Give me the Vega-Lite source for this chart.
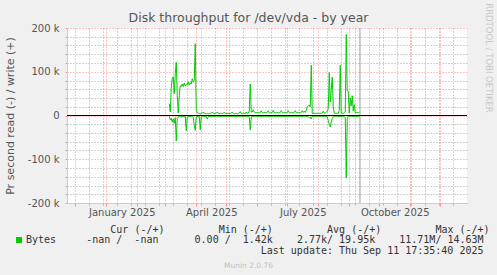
{
  "$schema": "https://vega.github.io/schema/vega-lite/v6.json",
  "width": 400,
  "height": 175,
  "autosize": {"type": "none"},
  "padding": {"left": 67, "top": 28, "right": 30, "bottom": 72},
  "background": "#f0f0f0",
  "config": {"view": {"stroke": null, "fill": "white"}, "font": "DejaVu Sans"},
  "title": {"text": "Disk throughput for /dev/vda - by year", "font": "DejaVu Sans", "fontSize": 12.5, "fontWeight": "normal", "color": "#555", "anchor": "middle", "frame": "group", "dx": -18.5, "dy": 22, "offset": 0},
  "resolve": {"axis": {"x": "independent", "y": "independent"}},
  "layer": [
    {
      "data": {"values": [{}]},
      "mark": {"type": "rule", "color": "#999999", "strokeWidth": 1},
      "encoding": {
        "x": {"datum": {"year": 2025, "month": 9, "date": 11, "hours": 17, "minutes": 35, "seconds": 40}, "type": "temporal",
          "scale": {"domain": [{"year": 2024, "month": 11, "date": 22, "hours": 18}, {"year": 2025, "month": 12, "date": 27, "hours": 18}]},
          "axis": {"orient": "bottom", "values": [
            {"year": 2024, "month": 12, "date": 15}, {"year": 2024, "month": 12, "date": 29}, {"year": 2025, "month": 1, "date": 12}, {"year": 2025, "month": 1, "date": 26},
            {"year": 2025, "month": 2, "date": 9}, {"year": 2025, "month": 2, "date": 23}, {"year": 2025, "month": 3, "date": 9}, {"year": 2025, "month": 3, "date": 23},
            {"year": 2025, "month": 4, "date": 6}, {"year": 2025, "month": 4, "date": 20}, {"year": 2025, "month": 5, "date": 4}, {"year": 2025, "month": 5, "date": 18},
            {"year": 2025, "month": 6, "date": 15}, {"year": 2025, "month": 6, "date": 29}, {"year": 2025, "month": 7, "date": 13}, {"year": 2025, "month": 7, "date": 27},
            {"year": 2025, "month": 8, "date": 10}, {"year": 2025, "month": 8, "date": 24}, {"year": 2025, "month": 9, "date": 7}, {"year": 2025, "month": 9, "date": 21},
            {"year": 2025, "month": 10, "date": 5}, {"year": 2025, "month": 10, "date": 19}, {"year": 2025, "month": 11, "date": 2}, {"year": 2025, "month": 11, "date": 16},
            {"year": 2025, "month": 11, "date": 30}, {"year": 2025, "month": 12, "date": 14}],
            "grid": true, "gridColor": "#909090", "gridOpacity": 0.8, "gridDash": [1, 2], "ticks": true, "tickColor": "#b0b0b0", "tickSize": 2,
            "labels": false, "domain": false,
            "title": "Munin 2.0.76", "titleFont": "DejaVu Sans", "titleFontSize": 7.5, "titleFontWeight": "normal", "titleColor": "#c0c0c0",
            "titleX": 181, "titleY": 64, "titleAlign": "center", "titleBaseline": "alphabetic"}},
        "y": {"datum": -200000, "type": "quantitative", "scale": {"domain": [-200000, 200000], "nice": false, "zero": false},
          "axis": {"orient": "left", "values": [-180000, -160000, -140000, -120000, -80000, -60000, -40000, -20000, 20000, 40000, 60000, 80000, 120000, 140000, 160000, 180000],
            "grid": true, "gridColor": "#909090", "gridOpacity": 0.8, "gridDash": [1, 2], "ticks": true, "tickColor": "#b0b0b0", "tickSize": 2,
            "labels": false, "domain": false, "title": null}},
        "y2": {"datum": 200000}
      }
    },
    {
      "data": {"values": [
        {"d":"2025-03-05","write":27000,"read":-2000},{"d":"2025-03-06","write":8000,"read":-10000},{"d":"2025-03-07","write":62000,"read":-6000},
        {"d":"2025-03-08","write":86000,"read":-15000},{"d":"2025-03-09","write":88000,"read":-8000},{"d":"2025-03-10","write":50000,"read":-18000},
        {"d":"2025-03-11","write":95000,"read":-5000},{"d":"2025-03-12","write":122000,"read":-58000},{"d":"2025-03-13","write":45000,"read":-6000},
        {"d":"2025-03-14","write":6000,"read":-3000},{"d":"2025-03-15","write":45000,"read":-2000},{"d":"2025-03-16","write":68000,"read":-2000},
        {"d":"2025-03-17","write":66000,"read":-3000},{"d":"2025-03-18","write":72000,"read":-2000},{"d":"2025-03-19","write":66000,"read":-2000},
        {"d":"2025-03-20","write":74000,"read":-3000},{"d":"2025-03-21","write":68000,"read":-2000},{"d":"2025-03-22","write":72000,"read":-35000},
        {"d":"2025-03-23","write":70000,"read":-3000},{"d":"2025-03-24","write":77000,"read":-2000},{"d":"2025-03-25","write":69000,"read":-2000},
        {"d":"2025-03-26","write":75000,"read":-3000},{"d":"2025-03-27","write":72000,"read":-2000},{"d":"2025-03-28","write":84000,"read":-2000},
        {"d":"2025-03-29","write":76000,"read":-4000},{"d":"2025-03-30","write":80000,"read":-22000},{"d":"2025-03-31","write":164000,"read":-34000},
        {"d":"2025-04-01","write":14000,"read":-3000},{"d":"2025-04-02","write":6000,"read":-2000},{"d":"2025-04-03","write":5000,"read":-3000},
        {"d":"2025-04-04","write":5000,"read":-2000},{"d":"2025-04-05","write":4000,"read":-33000},{"d":"2025-04-06","write":5000,"read":-3000},
        {"d":"2025-04-07","write":5000,"read":-2000},{"d":"2025-04-08","write":8000,"read":-2000},{"d":"2025-04-09","write":5000,"read":-2000},
        {"d":"2025-04-10","write":5000,"read":-3000},{"d":"2025-04-11","write":4000,"read":-2000},{"d":"2025-04-12","write":5000,"read":-8000},
        {"d":"2025-04-13","write":4000,"read":-2000},{"d":"2025-04-14","write":5000,"read":-2000},{"d":"2025-04-15","write":5000,"read":-2000},
        {"d":"2025-04-16","write":5000,"read":-3000},{"d":"2025-04-17","write":8000,"read":-2000},{"d":"2025-04-18","write":5000,"read":-2000},
        {"d":"2025-04-19","write":4000,"read":-2000},{"d":"2025-04-20","write":5000,"read":-2000},{"d":"2025-04-21","write":5000,"read":-3000},
        {"d":"2025-04-22","write":8000,"read":-2000},{"d":"2025-04-23","write":5000,"read":-2000},{"d":"2025-04-24","write":4000,"read":-2000},
        {"d":"2025-04-25","write":5000,"read":-2000},{"d":"2025-04-26","write":5000,"read":-2000},{"d":"2025-04-27","write":4000,"read":-3000},
        {"d":"2025-04-28","write":5000,"read":-2000},{"d":"2025-04-29","write":8000,"read":-2000},{"d":"2025-04-30","write":5000,"read":-2000},
        {"d":"2025-05-01","write":4000,"read":-2000},{"d":"2025-05-02","write":5000,"read":-2000},{"d":"2025-05-03","write":5000,"read":-3000},
        {"d":"2025-05-04","write":4000,"read":-2000},{"d":"2025-05-05","write":5000,"read":-2000},{"d":"2025-05-06","write":5000,"read":-2000},
        {"d":"2025-05-07","write":8000,"read":-3000},{"d":"2025-05-08","write":5000,"read":-2000},{"d":"2025-05-09","write":4000,"read":-2000},
        {"d":"2025-05-10","write":5000,"read":-2000},{"d":"2025-05-11","write":5000,"read":-2000},{"d":"2025-05-12","write":4000,"read":-3000},
        {"d":"2025-05-13","write":5000,"read":-2000},{"d":"2025-05-14","write":5000,"read":-2000},{"d":"2025-05-15","write":9000,"read":-2000},
        {"d":"2025-05-16","write":5000,"read":-2000},{"d":"2025-05-17","write":4000,"read":-2000},{"d":"2025-05-18","write":5000,"read":-3000},
        {"d":"2025-05-19","write":5000,"read":-2000},{"d":"2025-05-20","write":4000,"read":-2000},{"d":"2025-05-21","write":8000,"read":-2000},
        {"d":"2025-05-22","write":5000,"read":-2000},{"d":"2025-05-23","write":5000,"read":-2000},{"d":"2025-05-24","write":10000,"read":-3000},
        {"d":"2025-05-25","write":72000,"read":-33000},{"d":"2025-05-26","write":8000,"read":-3000},{"d":"2025-05-27","write":8000,"read":-2000},
        {"d":"2025-05-28","write":13000,"read":-2000},{"d":"2025-05-29","write":8000,"read":-2000},{"d":"2025-05-30","write":7000,"read":-2000},
        {"d":"2025-05-31","write":7000,"read":-2000},{"d":"2025-06-01","write":7000,"read":-2000},{"d":"2025-06-02","write":6000,"read":-2000},
        {"d":"2025-06-03","write":7000,"read":-2000},{"d":"2025-06-04","write":7000,"read":-2000},{"d":"2025-06-05","write":11000,"read":-3000},
        {"d":"2025-06-06","write":7000,"read":-2000},{"d":"2025-06-07","write":6000,"read":-2000},{"d":"2025-06-08","write":7000,"read":-2000},
        {"d":"2025-06-09","write":7000,"read":-2000},{"d":"2025-06-10","write":6000,"read":-2000},{"d":"2025-06-11","write":7000,"read":-2000},
        {"d":"2025-06-12","write":11000,"read":-3000},{"d":"2025-06-13","write":7000,"read":-2000},{"d":"2025-06-14","write":6000,"read":-2000},
        {"d":"2025-06-15","write":7000,"read":-2000},{"d":"2025-06-16","write":7000,"read":-2000},{"d":"2025-06-17","write":12000,"read":-2000},
        {"d":"2025-06-18","write":7000,"read":-2000},{"d":"2025-06-19","write":6000,"read":-2000},{"d":"2025-06-20","write":7000,"read":-2000},
        {"d":"2025-06-21","write":7000,"read":-2000},{"d":"2025-06-22","write":6000,"read":-2000},{"d":"2025-06-23","write":7000,"read":-2000},
        {"d":"2025-06-24","write":7000,"read":-2000},{"d":"2025-06-25","write":11000,"read":-3000},{"d":"2025-06-26","write":7000,"read":-2000},
        {"d":"2025-06-27","write":6000,"read":-2000},{"d":"2025-06-28","write":7000,"read":-2000},{"d":"2025-06-29","write":7000,"read":-2000},
        {"d":"2025-06-30","write":6000,"read":-2000},{"d":"2025-07-01","write":7000,"read":-2000},{"d":"2025-07-02","write":11000,"read":-3000},
        {"d":"2025-07-03","write":7000,"read":-2000},{"d":"2025-07-04","write":6000,"read":-2000},{"d":"2025-07-05","write":7000,"read":-2000},
        {"d":"2025-07-06","write":7000,"read":-2000},{"d":"2025-07-07","write":6000,"read":-2000},{"d":"2025-07-08","write":7000,"read":-2000},
        {"d":"2025-07-09","write":11000,"read":-2000},{"d":"2025-07-10","write":7000,"read":-2000},{"d":"2025-07-11","write":6000,"read":-2000},
        {"d":"2025-07-12","write":7000,"read":-2000},{"d":"2025-07-13","write":7000,"read":-2000},{"d":"2025-07-14","write":6000,"read":-2000},
        {"d":"2025-07-15","write":7000,"read":-2000},{"d":"2025-07-16","write":11000,"read":-3000},{"d":"2025-07-17","write":7000,"read":-2000},
        {"d":"2025-07-18","write":10000,"read":-2000},{"d":"2025-07-19","write":7000,"read":-2000},{"d":"2025-07-20","write":12000,"read":-2000},
        {"d":"2025-07-21","write":20000,"read":-2000},{"d":"2025-07-22","write":22000,"read":-3000},{"d":"2025-07-23","write":24000,"read":-5000},
        {"d":"2025-07-24","write":20000,"read":-4000},{"d":"2025-07-25","write":115000,"read":-8000},{"d":"2025-07-26","write":5000,"read":-2000},
        {"d":"2025-07-27","write":5000,"read":-2000},{"d":"2025-07-28","write":5000,"read":-2000},{"d":"2025-07-29","write":5000,"read":-2000},
        {"d":"2025-07-30","write":5000,"read":-2000},{"d":"2025-07-31","write":5000,"read":-2000},{"d":"2025-08-01","write":5000,"read":-2000},
        {"d":"2025-08-02","write":5000,"read":-2000},{"d":"2025-08-03","write":5000,"read":-2000},{"d":"2025-08-04","write":5000,"read":-2000},
        {"d":"2025-08-05","write":5000,"read":-2000},{"d":"2025-08-06","write":10000,"read":-2000},{"d":"2025-08-07","write":5000,"read":-2000},
        {"d":"2025-08-08","write":6000,"read":-2000},{"d":"2025-08-09","write":8000,"read":-2000},{"d":"2025-08-10","write":9000,"read":-3000},
        {"d":"2025-08-11","write":16000,"read":-11000},{"d":"2025-08-12","write":98000,"read":-20000},{"d":"2025-08-13","write":31000,"read":-26000},
        {"d":"2025-08-14","write":60000,"read":-15000},{"d":"2025-08-15","write":88000,"read":-7000},{"d":"2025-08-16","write":20000,"read":-3000},
        {"d":"2025-08-17","write":5000,"read":-2000},{"d":"2025-08-18","write":5000,"read":-2000},{"d":"2025-08-19","write":5000,"read":-2000},
        {"d":"2025-08-20","write":5000,"read":-2000},{"d":"2025-08-21","write":5000,"read":-2000},{"d":"2025-08-22","write":12000,"read":-2000},
        {"d":"2025-08-23","write":115000,"read":-2000},{"d":"2025-08-24","write":5000,"read":-2000},{"d":"2025-08-25","write":5000,"read":-2000},
        {"d":"2025-08-26","write":5000,"read":-2000},{"d":"2025-08-27","write":6000,"read":-2000},{"d":"2025-08-28","write":8000,"read":-5000},
        {"d":"2025-08-29","write":185000,"read":-143000},{"d":"2025-08-30","write":58000,"read":-7000},{"d":"2025-08-31","write":54000,"read":-2000},
        {"d":"2025-09-01","write":6000,"read":-1000},{"d":"2025-09-02","write":40000,"read":-2000},{"d":"2025-09-03","write":22000,"read":-2000},
        {"d":"2025-09-04","write":45000,"read":-2000},{"d":"2025-09-05","write":10000,"read":-2000},{"d":"2025-09-06","write":25000,"read":-2000},
        {"d":"2025-09-07","write":6000,"read":-2000},{"d":"2025-09-08","write":7000,"read":-2000},{"d":"2025-09-09","write":7000,"read":-2000},
        {"d":"2025-09-10","write":7000,"read":-2000},{"d":"2025-09-11","write":7000,"read":-2000}
      ]},
      "transform": [{"fold": ["write", "read"], "as": ["dir", "val"]}],
      "mark": {"type": "line", "strokeWidth": 1},
      "encoding": {
        "x": {"field": "d", "type": "temporal",
          "scale": {"domain": [{"year": 2024, "month": 11, "date": 22, "hours": 18}, {"year": 2025, "month": 12, "date": 27, "hours": 18}]},
          "axis": {"orient": "bottom", "values": [
            {"year": 2024, "month": 12, "date": 1}, {"year": 2025, "month": 1, "date": 1}, {"year": 2025, "month": 2, "date": 1}, {"year": 2025, "month": 3, "date": 1},
            {"year": 2025, "month": 4, "date": 1}, {"year": 2025, "month": 5, "date": 1}, {"year": 2025, "month": 6, "date": 1}, {"year": 2025, "month": 7, "date": 1},
            {"year": 2025, "month": 8, "date": 1}, {"year": 2025, "month": 9, "date": 1}, {"year": 2025, "month": 10, "date": 1}, {"year": 2025, "month": 11, "date": 1},
            {"year": 2025, "month": 12, "date": 1}],
            "grid": true, "gridColor": "#ff4040", "gridOpacity": 0.6, "gridDash": [1, 2], "ticks": true, "tickColor": "#ff9090", "tickSize": 3,
            "labels": false, "domain": true, "domainColor": "#c8c8f0", "domainWidth": 1,
            "title": "Last update: Thu Sep 11 17:35:40 2025", "titleFont": "DejaVu Sans Mono", "titleFontSize": 10, "titleFontWeight": "normal", "titleColor": "#333",
            "titleX": 416, "titleY": 50, "titleAlign": "right", "titleBaseline": "alphabetic"}},
        "y": {"field": "val", "type": "quantitative", "scale": {"domain": [-200000, 200000], "nice": false, "zero": false},
          "axis": {"orient": "left", "values": [-200000, -100000, 0, 100000, 200000],
            "grid": true, "gridColor": "#ff4040", "gridOpacity": 0.6, "gridDash": [1, 2], "ticks": true, "tickColor": "#ff9090", "tickSize": 2,
            "domain": true, "domainColor": "#c8c8f0", "domainWidth": 1,
            "labelExpr": "datum.value == 0 ? '0' : (datum.value / 1000) + ' k'", "labelFont": "DejaVu Sans", "labelFontSize": 10, "labelColor": "#555", "labelPadding": 6, "labelOverlap": false, "labelFlush": false,
            "title": "Pr second read (-) / write (+)", "titleFont": "DejaVu Sans", "titleFontSize": 11, "titleFontWeight": "normal", "titleColor": "#555",
            "titleX": -56.5, "titleY": 87.5, "titleAngle": 270, "titleAlign": "center", "titleBaseline": "middle"}},
        "detail": {"field": "dir", "type": "nominal"},
        "color": {"datum": "Bytes", "type": "nominal", "scale": {"range": ["#00cc00"]},
          "legend": {"orient": "none", "legendX": -53, "legendY": 197, "padding": 0,
            "title": "\u200b\u00a0\u00a0\u00a0\u00a0\u00a0\u00a0\u00a0\u00a0\u00a0\u00a0\u00a0\u00a0\u00a0\u00a0\u00a0\u00a0Cur\u00a0(-/+)\u00a0\u00a0\u00a0\u00a0\u00a0\u00a0\u00a0\u00a0\u00a0Min\u00a0(-/+)\u00a0\u00a0\u00a0\u00a0\u00a0\u00a0\u00a0\u00a0\u00a0Avg\u00a0(-/+)\u00a0\u00a0\u00a0\u00a0\u00a0\u00a0\u00a0\u00a0\u00a0Max\u00a0(-/+)",
            "titleFont": "DejaVu Sans Mono", "titleFontSize": 10, "titleFontWeight": "normal", "titleColor": "#333", "titleLimit": 1000, "titlePadding": 0, "titleAnchor": "start",
            "labelFont": "DejaVu Sans Mono", "labelFontSize": 10, "labelColor": "#333", "labelLimit": 1000, "labelOffset": 2,
            "labelExpr": "'Bytes\u00a0\u00a0\u00a0\u00a0\u00a0-nan\u00a0/\u00a0\u00a0-nan\u00a0\u00a0\u00a0\u00a0\u00a0\u00a00.00\u00a0/\u00a0\u00a01.42k\u00a0\u00a0\u00a0\u00a02.77k/\u00a019.95k\u00a0\u00a0\u00a0\u00a011.71M/\u00a014.63M'",
            "symbolType": "square", "symbolSize": 36, "symbolFillColor": "#00cc00", "symbolStrokeWidth": 0,
            "encode": {"symbols": {"update": {"fill": {"value": "#00cc00"}, "stroke": {"value": "#00cc00"}, "strokeWidth": {"value": 0}}}}}}
      }
    },
    {
      "data": {"values": [{}]},
      "mark": {"type": "rule", "color": "#000000", "strokeWidth": 1},
      "encoding": {
        "x": {"datum": {"year": 2024, "month": 11, "date": 22, "hours": 18}, "type": "temporal",
          "scale": {"domain": [{"year": 2024, "month": 11, "date": 22, "hours": 18}, {"year": 2025, "month": 12, "date": 27, "hours": 18}]},
          "axis": {"orient": "bottom", "values": [
            {"year": 2025, "month": 1, "date": 16, "hours": 12}, {"year": 2025, "month": 4, "date": 16}, {"year": 2025, "month": 7, "date": 16, "hours": 12}, {"year": 2025, "month": 10, "date": 16, "hours": 12}],
            "format": "%B %Y", "grid": false, "ticks": false, "domain": false, "labels": true,
            "labelFont": "DejaVu Sans", "labelFontSize": 10, "labelColor": "#555", "labelPadding": 4, "labelOverlap": false, "labelFlush": false, "title": null}},
        "x2": {"datum": {"year": 2025, "month": 12, "date": 27, "hours": 18}},
        "y": {"datum": 0, "type": "quantitative", "scale": {"domain": [-200000, 200000], "nice": false, "zero": false},
          "axis": {"orient": "right", "labels": false, "ticks": false, "domain": false, "grid": false,
            "title": "RRDTOOL / TOBI OETIKER", "titleFont": "DejaVu Sans", "titleFontSize": 8.5, "titleFontWeight": "normal", "titleColor": "#c8c8c8",
            "titleAngle": 90, "titleX": 21.5, "titleY": 29.5, "titleAlign": "center", "titleBaseline": "middle"}}
      }
    }
  ]
}
